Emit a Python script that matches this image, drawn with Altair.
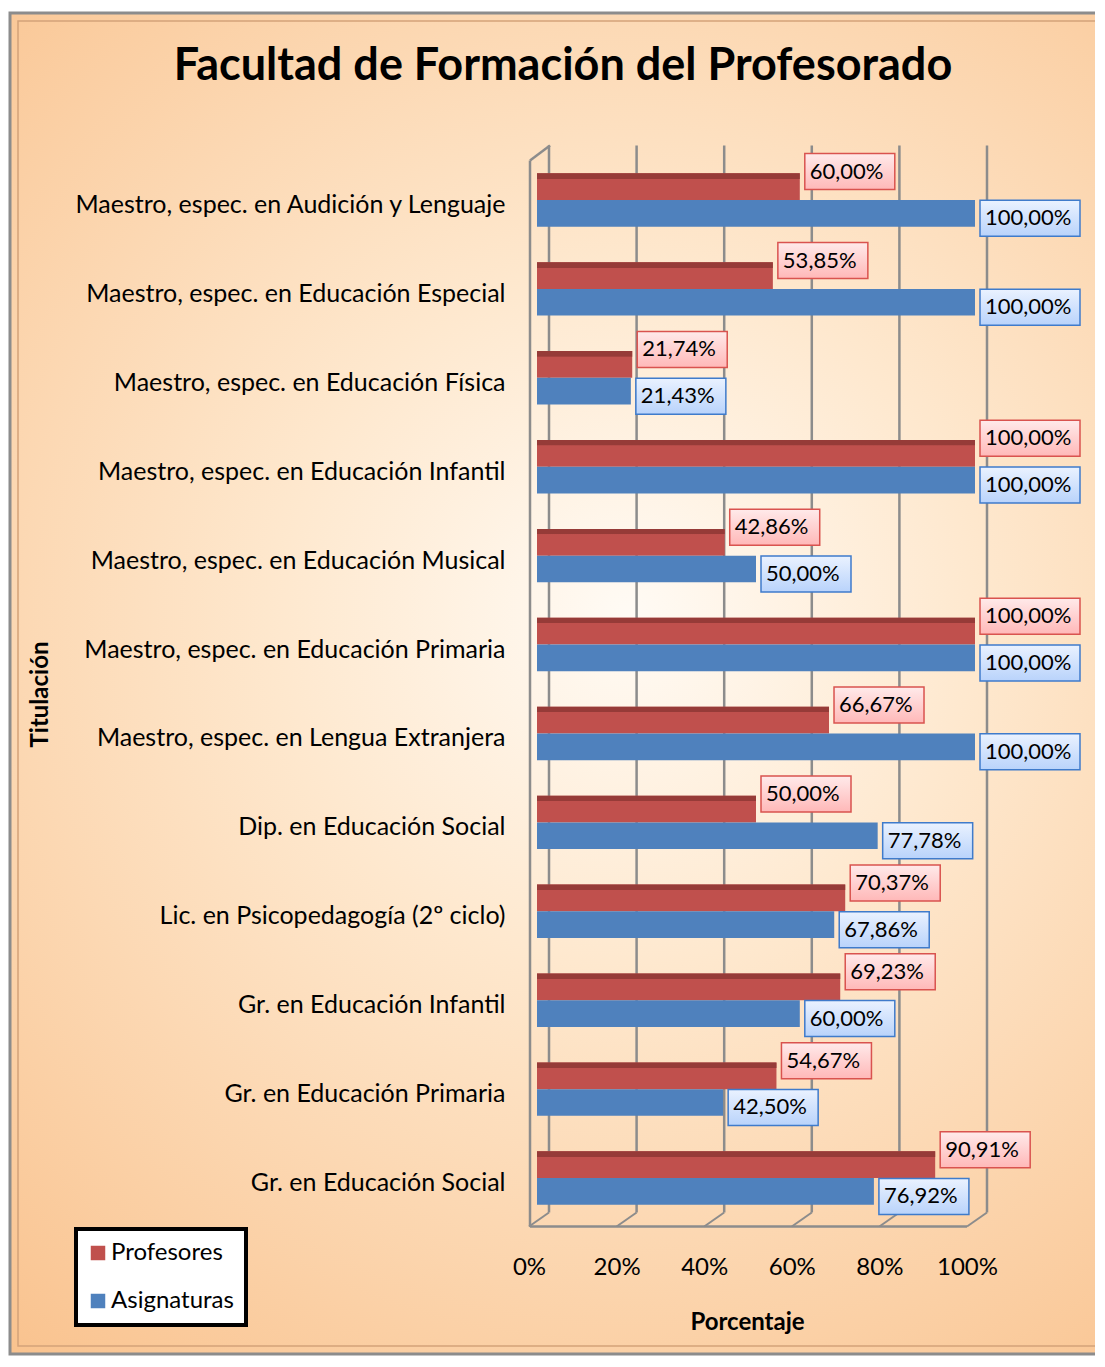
import altair as alt
import pandas as pd

categories = [
    "Maestro, espec. en Audición y Lenguaje",
    "Maestro, espec. en Educación Especial",
    "Maestro, espec. en Educación Física",
    "Maestro, espec. en Educación Infantil",
    "Maestro, espec. en Educación Musical",
    "Maestro, espec. en Educación Primaria",
    "Maestro, espec. en Lengua Extranjera",
    "Dip. en Educación Social",
    "Lic. en Psicopedagogía (2º ciclo)",
    "Gr. en Educación Infantil",
    "Gr. en Educación Primaria",
    "Gr. en Educación Social",
]
profesores = [60.00, 53.85, 21.74, 100.00, 42.86, 100.00, 66.67, 50.00, 70.37, 69.23, 54.67, 90.91]
asignaturas = [100.00, 100.00, 21.43, 100.00, 50.00, 100.00, 100.00, 77.78, 67.86, 60.00, 42.50, 76.92]
series_names = ["Profesores", "Asignaturas"]
x_ticks = [0, 20, 40, 60, 80, 100]

FONT = "Lato"
W, H = 438, 1067


def fmt(v):
    return f"{v:.2f}".replace(".", ",") + "%"


rows = []
for c, p, a in zip(categories, profesores, asignaturas):
    for s, v in ((series_names[0], p), (series_names[1], a)):
        lab = fmt(v)
        w = 10 * len(lab) + 30
        if s == "Profesores":
            path = f"M5,-33H{5 + w}V3H5Z"
        else:
            path = f"M5,-13H{5 + w}V23H5Z"
        rows.append({"cat": c, "series": s, "value": v, "label": lab, "path": path})
df = pd.DataFrame(rows)
ticks_df = pd.DataFrame({"value": x_ticks})
one = pd.DataFrame({"a": [0]})

X_AXIS = alt.Axis(
    values=x_ticks, labelExpr="datum.value + '%'", grid=False, ticks=False, domain=False,
    labelFont=FONT, labelFontSize=24, labelColor="black", labelPadding=33, labelOffset=-8,
    labelFlush=False, labelOverlap=False,
    title="Porcentaje", titleFont=FONT, titleFontSize=24, titleFontWeight="bold",
    titleColor="black", titleX=210, titleY=100, titleBaseline="middle", zindex=2,
)
X = alt.X("value:Q", scale=alt.Scale(domain=[0, 100], nice=False, zero=True), axis=X_AXIS)
Y = alt.Y(
    "cat:N", sort=categories,
    scale=alt.Scale(paddingInner=0.4, paddingOuter=0.2),
    axis=alt.Axis(
        ticks=False, domain=False, grid=False, labelFont=FONT, labelFontSize=25,
        labelColor="black", labelPadding=32, labelLimit=1000, labelOffset=5,
        title="Titulación", titleFont=FONT, titleFontSize=24, titleFontWeight="bold",
        titleColor="black", titleX=-497, titleY=H / 2 + 5, titleBaseline="middle", titleAngle=-90,
        zindex=2,
    ),
)
YO = alt.YOffset("series:N", sort=series_names)

bg = alt.Chart(one).mark_rect(
    fill={
        "gradient": "radial", "x1": 0.55, "y1": 0.45, "r1": 0, "x2": 0.55, "y2": 0.45, "r2": 0.75,
        "stops": [
            {"offset": 0, "color": "#FFFBF5"},
            {"offset": 0.35, "color": "#FEE8CE"},
            {"offset": 1, "color": "#F9C08A"},
        ],
    },
    stroke="#8C8C8C", strokeWidth=3,
).encode(x=alt.value(-527), x2=alt.value(575), y=alt.value(-142.5), y2=alt.value(1198.5))

inner = alt.Chart(one).mark_rect(fillOpacity=0, stroke="#D4A27A", strokeWidth=1.5).encode(
    x=alt.value(-519), x2=alt.value(580), y=alt.value(-134.5), y2=alt.value(1190.5)
)

legend_box = alt.Chart(one).mark_rect(fill="white", stroke="black", strokeWidth=4).encode(
    x=alt.value(-461), x2=alt.value(-291), y=alt.value(1073.5), y2=alt.value(1169.5)
)

grid = alt.Chart(ticks_df).mark_rule(color="#8C8C8C", strokeWidth=2.5, xOffset=12).encode(
    x=X, y=alt.value(-10), y2=alt.value(1057),
)
floor = alt.Chart(ticks_df).mark_rule(color="#8C8C8C", strokeWidth=2, xOffset=-8, x2Offset=12).encode(
    x=X, x2="value:Q", y=alt.value(1071), y2=alt.value(1057),
)
front_left = alt.Chart(one).mark_rule(color="#8C8C8C", strokeWidth=2.5).encode(
    x=alt.value(-7), y=alt.value(5), y2=alt.value(1071)
)
top_left = alt.Chart(one).mark_rule(color="#8C8C8C", strokeWidth=2.5).encode(
    x=alt.value(-7), x2=alt.value(13), y=alt.value(5), y2=alt.value(-10)
)
front_floor = alt.Chart(one).mark_rule(color="#8C8C8C", strokeWidth=2.5).encode(
    x=alt.value(-7), x2=alt.value(430), y=alt.value(1071)
)

bars = alt.Chart(df).mark_bar().encode(
    x=X, y=Y, yOffset=YO,
    color=alt.Color(
        "series:N", sort=series_names,
        scale=alt.Scale(domain=series_names, range=["#C0504D", "#4F81BD"]),
        legend=alt.Legend(
            title=None, orient="none", legendX=-451, legendY=1085.5, padding=0,
            symbolType="square", symbolSize=210, symbolStrokeWidth=0,
            labelFont=FONT, labelFontSize=24, labelColor="black", labelOffset=1,
            rowPadding=24,
        ),
    ),
)

top_strip = alt.Chart(df).transform_filter(alt.datum.series == "Profesores").mark_bar(
    fill={
        "gradient": "linear", "x1": 0, "y1": 0, "x2": 0, "y2": 1,
        "stops": [
            {"offset": 0, "color": "#963B38"},
            {"offset": 0.2, "color": "#963B38"},
            {"offset": 0.21, "color": "rgba(192,80,77,0)"},
            {"offset": 1, "color": "rgba(192,80,77,0)"},
        ],
    }
).encode(x=X, y=Y, yOffset=YO)

box_p = alt.Chart(df).transform_filter(alt.datum.series == "Profesores").mark_point(
    size=4, filled=True, opacity=1, strokeWidth=1.5, stroke="#D9534F",
    fill={
        "gradient": "linear", "x1": 0, "y1": 0, "x2": 0, "y2": 1,
        "stops": [{"offset": 0, "color": "#FFEAEA"}, {"offset": 1, "color": "#FFB8B8"}],
    },
).encode(x=X, y=Y, yOffset=YO, shape=alt.Shape("path:N", scale=None, legend=None))

box_a = alt.Chart(df).transform_filter(alt.datum.series == "Asignaturas").mark_point(
    size=4, filled=True, opacity=1, strokeWidth=1.5, stroke="#3F7BCB",
    fill={
        "gradient": "linear", "x1": 0, "y1": 0, "x2": 0, "y2": 1,
        "stops": [{"offset": 0, "color": "#EAF2FF"}, {"offset": 1, "color": "#B9D3FB"}],
    },
).encode(x=X, y=Y, yOffset=YO, shape=alt.Shape("path:N", scale=None, legend=None))

txt_p = alt.Chart(df).transform_filter(alt.datum.series == "Profesores").mark_text(
    align="left", baseline="middle", dx=10, dy=-15, font=FONT, fontSize=22, color="black"
).encode(x=X, y=Y, yOffset=YO, text="label:N")

txt_a = alt.Chart(df).transform_filter(alt.datum.series == "Asignaturas").mark_text(
    align="left", baseline="middle", dx=10, dy=5, font=FONT, fontSize=22, color="black"
).encode(x=X, y=Y, yOffset=YO, text="label:N")

chart = alt.layer(
    bg, inner, legend_box, grid, floor, front_left, top_left, front_floor,
    bars, top_strip, box_p, box_a, txt_p, txt_a,
).properties(
    width=W, height=H,
    autosize=alt.AutoSizeParams(type="none"),
    padding={"left": 529, "top": 147.5, "right": 120, "bottom": 135},
    title=alt.TitleParams(
        "Facultad de Formación del Profesorado", font=FONT, fontSize=45, fontWeight="bold",
        color="black", anchor="middle", dx=-193, offset=-77, zindex=2,
    ),
).configure_view(strokeWidth=0).resolve_scale(x="shared")

chart.save("out.html", embed_options={"renderer": "svg", "actions": False})
